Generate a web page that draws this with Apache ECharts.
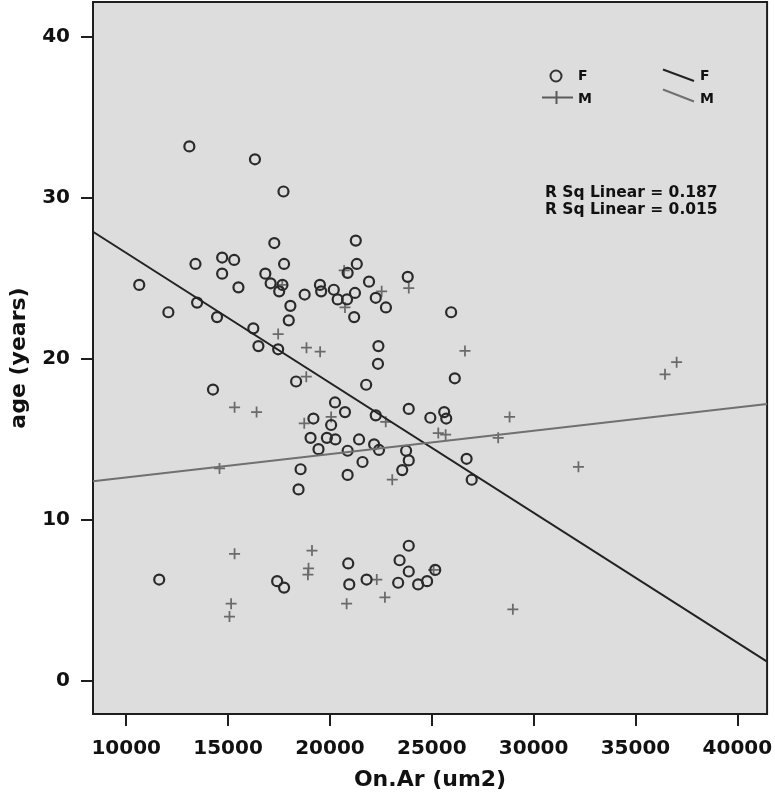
<!DOCTYPE html>
<html>
<head>
<meta charset="utf-8">
<script src="https://cdn.jsdelivr.net/npm/echarts@6/dist/echarts.min.js"></script>
<style>
  html, body { margin: 0; padding: 0; background: #ffffff; }
  #chart { width: 775px; height: 802px; }
</style>
</head>
<body>
<div id="chart"></div>
<script>
// ---- data ----
const xTicks = [10000, 15000, 20000, 25000, 30000, 35000, 40000];
const yTicks = [0, 10, 20, 30, 40];
const xTitle = 'On.Ar (um2)';
const yTitle = 'age (years)';

const femaleOnAr = [13100, 16320, 17720, 17270, 21270, 13400, 14710, 15300, 14710, 17750,
  10640, 15510, 16830, 17090, 17670, 17510, 18760, 18060, 19510, 19570,
  20190, 20380, 13480, 12070, 14460, 17980, 21320, 20870, 21230, 20840,
  21920, 22250, 22750, 21190, 23820, 25950, 16240, 16490, 17460, 22380,
  22360, 26130, 18340, 21780, 14260, 20250, 20740, 22250, 23870, 24930,
  25610, 25710, 19190, 20060, 19050, 19850, 20270, 21430, 22170, 22410,
  19440, 20870, 23740, 23870, 21600, 23550, 26710, 26960, 18560, 20870,
  18460, 11620, 17410, 17750, 20900, 20950, 21800, 23870, 23420, 23870,
  23350, 24330, 24770, 25170];
const femaleAge = [33.2, 32.4, 30.4, 27.2, 27.35, 25.9, 26.3, 26.15, 25.3, 25.9,
  24.6, 24.45, 25.3, 24.7, 24.6, 24.2, 24.0, 23.3, 24.6, 24.2,
  24.3, 23.7, 23.5, 22.9, 22.6, 22.4, 25.9, 25.35, 24.1, 23.7,
  24.8, 23.8, 23.2, 22.6, 25.1, 22.9, 21.9, 20.8, 20.6, 20.8,
  19.7, 18.8, 18.6, 18.4, 18.1, 17.3, 16.7, 16.5, 16.9, 16.35,
  16.7, 16.3, 16.3, 15.9, 15.1, 15.1, 15.0, 15.0, 14.7, 14.35,
  14.4, 14.3, 14.3, 13.7, 13.6, 13.1, 13.8, 12.5, 13.15, 12.8,
  11.9, 6.3, 6.2, 5.8, 7.3, 6.0, 6.3, 8.4, 7.5, 6.8,
  6.1, 6.0, 6.2, 6.9];

const maleOnAr = [17660, 20700, 22540, 23870, 20740, 17460, 18850, 19520, 18840, 26630,
  15320, 16400, 18740, 20060, 22740, 25320, 25680, 28260, 28820, 14580,
  23060, 32200, 36450, 37020, 28980, 25090, 15320, 15150, 15070, 19120,
  18950, 18920, 20820, 22300, 22700];
const maleAge = [24.6, 25.5, 24.2, 24.4, 23.2, 21.55, 20.7, 20.45, 18.9, 20.5,
  17.0, 16.7, 16.0, 16.4, 16.1, 15.4, 15.3, 15.1, 16.4, 13.2,
  12.5, 13.3, 19.05, 19.8, 4.45, 6.9, 7.9, 4.8, 4.0, 8.1,
  7.0, 6.6, 4.8, 6.3, 5.2];

// fit lines (endpoints read at the plot edges)
const fitFemaleX = [8370, 41460];
const fitFemaleY = [27.9, 1.2];
const fitMaleX = [8370, 41460];
const fitMaleY = [12.4, 17.2];

const rsqLabels = ['R Sq Linear = 0.187', 'R Sq Linear = 0.015'];
const legendNames = ['F', 'M'];

// ---- chart ----
const FONT = 'DejaVu Sans';
const zip = (a, b) => a.map((v, i) => [v, b[i]]);
const chart = echarts.init(document.getElementById('chart'), null, { renderer: 'canvas' });

const plusPath = 'path://M0,4.2H10V5.8H0Z M4.2,0H5.8V10H4.2Z';

chart.setOption({
  animation: false,
  backgroundColor: '#ffffff',
  grid: {
    left: 90, right: 6, top: 2, bottom: 88,
    show: true, backgroundColor: '#dddddd', borderColor: '#1e1e1e', borderWidth: 2
  },
  xAxis: {
    type: 'value', min: 8370, max: 41460,
    name: xTitle, nameLocation: 'middle', nameGap: 55,
    nameTextStyle: { fontFamily: FONT, fontWeight: 'bold', fontSize: 22, color: '#111' },
    axisLine: { show: true, onZero: false, lineStyle: { color: '#1e1e1e', width: 2 } },
    axisTick: { show: true, length: 12, inside: false, customValues: xTicks, lineStyle: { color: '#1e1e1e', width: 2 } },
    axisLabel: { customValues: xTicks, margin: 25, fontFamily: FONT, fontWeight: 'bold', fontSize: 20, color: '#111', formatter: v => String(v) },
    splitLine: { show: false }
  },
  yAxis: {
    type: 'value', min: -2.05, max: 42.17,
    name: yTitle, nameLocation: 'middle', nameGap: 63, nameRotate: 90,
    nameTextStyle: { fontFamily: FONT, fontWeight: 'bold', fontSize: 22, color: '#111' },
    axisLine: { show: true, onZero: false, lineStyle: { color: '#1e1e1e', width: 2 } },
    axisTick: { show: true, length: 12, inside: false, customValues: yTicks, lineStyle: { color: '#1e1e1e', width: 2 } },
    axisLabel: { customValues: yTicks, margin: 23, fontFamily: FONT, fontWeight: 'bold', fontSize: 20, color: '#111', formatter: v => String(v) },
    splitLine: { show: false }
  },
  series: [
    {
      name: 'F', type: 'scatter', data: zip(femaleOnAr, femaleAge),
      symbol: 'circle', symbolSize: 10,
      itemStyle: { color: 'rgba(0,0,0,0)', borderColor: '#2a2a2a', borderWidth: 2.2, opacity: 1 },
      z: 3
    },
    {
      name: 'M', type: 'scatter', data: zip(maleOnAr, maleAge),
      symbol: plusPath, symbolSize: 11,
      itemStyle: { color: '#6a6a6a', opacity: 1 },
      z: 2
    },
    {
      name: 'F fit', type: 'line', data: zip(fitFemaleX, fitFemaleY),
      symbol: 'none', clip: true,
      lineStyle: { color: '#222222', width: 2 }, z: 4
    },
    {
      name: 'M fit', type: 'line', data: zip(fitMaleX, fitMaleY),
      symbol: 'none', clip: true,
      lineStyle: { color: '#707070', width: 2 }, z: 4
    }
  ],
  graphic: [
    // marker legend
    { type: 'circle', shape: { cx: 556, cy: 76, r: 5.5 }, style: { fill: 'none', stroke: '#333', lineWidth: 2 } },
    { type: 'line', shape: { x1: 542, y1: 97.5, x2: 573, y2: 97.5 }, style: { stroke: '#5a5a5a', lineWidth: 2 } },
    { type: 'line', shape: { x1: 556.5, y1: 91, x2: 556.5, y2: 104 }, style: { stroke: '#5a5a5a', lineWidth: 2 } },
    { type: 'text', x: 578, y: 76, style: { text: legendNames[0], font: 'bold 14px "DejaVu Sans"', fill: '#111', verticalAlign: 'middle' } },
    { type: 'text', x: 578, y: 99, style: { text: legendNames[1], font: 'bold 14px "DejaVu Sans"', fill: '#111', verticalAlign: 'middle' } },
    // line legend
    { type: 'line', shape: { x1: 663, y1: 69.5, x2: 694, y2: 81 }, style: { stroke: '#222', lineWidth: 2 } },
    { type: 'line', shape: { x1: 663, y1: 89.5, x2: 694, y2: 101.5 }, style: { stroke: '#707070', lineWidth: 2 } },
    { type: 'text', x: 700, y: 76, style: { text: legendNames[0], font: 'bold 14px "DejaVu Sans"', fill: '#111', verticalAlign: 'middle' } },
    { type: 'text', x: 700, y: 99, style: { text: legendNames[1], font: 'bold 14px "DejaVu Sans"', fill: '#111', verticalAlign: 'middle' } },
    // R squared annotations
    { type: 'text', x: 545, y: 193, style: { text: rsqLabels[0], font: 'bold 15.5px "DejaVu Sans"', fill: '#111', verticalAlign: 'middle' } },
    { type: 'text', x: 545, y: 210, style: { text: rsqLabels[1], font: 'bold 15.5px "DejaVu Sans"', fill: '#111', verticalAlign: 'middle' } }
  ]
});
</script>
</body>
</html>
